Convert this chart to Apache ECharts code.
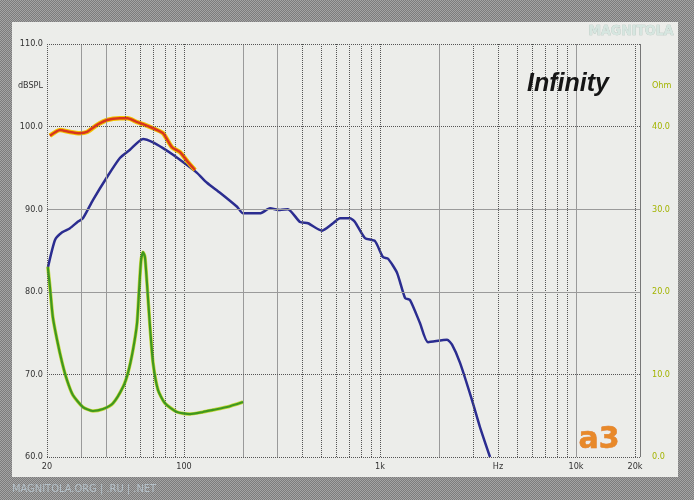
<!DOCTYPE html>
<html><head><meta charset="utf-8">
<script src="https://cdn.jsdelivr.net/npm/echarts@6/dist/echarts.min.js"></script>
<style>html,body{margin:0;padding:0;background:#8c8c8c}#c{width:694px;height:500px}</style>
</head><body><div id="c"></div>
<script>
// ---- data ----
const splFreq = [20.2,22,23.9,26.2,28.8,30.5,34.3,40.5,47.1,53,61.8,69.5,78.1,87.9,103.6,116.5,131,152.6,186.5,200,244,274.6,309,339,390.7,429,506,575.6,625,703,745,838,942,1035,1099,1221,1342,1423,1600,1758,2198,2330,2560,2946,3238,3641];
const splDb   = [82.9,86.3,87.2,87.7,88.5,88.9,91.1,93.9,96.2,97.2,98.5,98.1,97.4,96.6,95.35,94.4,93.2,92.0,90.3,89.5,89.5,90.1,89.9,90.0,88.45,88.3,87.4,88.3,88.9,88.9,88.45,86.5,86.15,84.2,84.0,82.3,79.25,79.0,76.2,73.9,74.2,73.6,71.4,66.9,63.6,60.0];
const nearFreq = [20.7,23.3,26.2,29.4,32,36,40.5,47.1,51.6,57.6,61.8,69.5,78.1,86.8,95.4,104.8,113.8];
const nearDb   = [98.9,99.6,99.35,99.2,99.35,100.2,100.8,101.0,101.0,100.55,100.3,99.8,99.2,97.5,96.9,95.7,94.75];
const impFreq = [20.2,20.7,21.4,22.5,23.9,25.3,27.1,30.5,34.3,38.6,43.4,48.9,51.8,54.9,57.6,59,60.4,61.8,63.2,64.7,67.1,69.5,73.7,80,92.1,107.3,125,140.6,165.8,200];
const impOhm  = [23.0,20.6,17.0,14.2,11.4,9.3,7.5,6.05,5.57,5.8,6.5,8.5,10.2,12.95,16.2,20.2,23.85,24.8,24.2,21.1,15.7,11.4,8.1,6.5,5.45,5.2,5.45,5.7,6.05,6.66];

const xTickValues = [20,100,1000,4000,10000,20000];
const xTickLabels = ['20','100','1k','Hz','10k','20k'];
const xGridFreq = [30,40,50,60,70,80,90,100,200,300,400,500,600,700,800,900,1000,2000,3000,4000,5000,6000,7000,8000,9000,10000,20000];
const xSolidFreq = [30,40,200,300,2000,10000];
const dbGrid = [60,70,80,90,100,110];
const dbSolid = [80,90];

const zip = (a,b)=>a.map((v,i)=>[v,b[i]]);

const pc = document.createElement('canvas'); pc.width=2; pc.height=2;
const g = pc.getContext('2d');
g.fillStyle='#7c7c7c'; g.fillRect(0,0,2,2);
g.fillStyle='#a4a4a4'; g.fillRect(0,0,1,1); g.fillRect(1,1,1,1);

const FONT = '"Liberation Sans Narrow","DejaVu Sans Condensed",sans-serif';
const gridLines = [];
xGridFreq.forEach(f=>{
  const solid = xSolidFreq.includes(f);
  gridLines.push({xAxis:f, lineStyle:{type: solid?'solid':'dotted', color: solid?'#9a9a9a':'#555', width:1}});
});
dbGrid.forEach(v=>{
  const solid = dbSolid.includes(v);
  gridLines.push({yAxis:v, lineStyle:{type: solid?'solid':'dotted', color: solid?'#9a9a9a':'#555', width:1}});
});
gridLines.push({xAxis:20, lineStyle:{type:'dotted', color:'#555', width:1}});
gridLines.push({xAxis:21200, lineStyle:{type:'solid', color:'#777', width:1}});
xTickValues.forEach((v,i)=>{
  gridLines.push({xAxis:v, lineStyle:{color:'rgba(0,0,0,0)', width:0.1},
    label:{show:true, position:'start', distance:5, formatter:xTickLabels[i], color:'#333',
      fontSize:9, fontFamily:FONT}});
});

const lab = {fontSize:9, fontFamily:FONT};

const chart = echarts.init(document.getElementById('c'));
chart.setOption({
  animation:false,
  backgroundColor:{image:pc, repeat:'repeat'},
  grid:{left:47, right:54, top:44, bottom:43},
  xAxis:{type:'log', logBase:10, min:20, max:21200,
    axisLabel:{show:false}, axisTick:{show:false}, axisLine:{show:false}, splitLine:{show:false}},
  yAxis:[
    {type:'value', min:60, max:110, interval:5, position:'left',
      axisLine:{show:false}, axisTick:{show:false}, splitLine:{show:false},
      axisLabel:Object.assign({color:'#333', margin:4,
        formatter:v=> v===105?'dBSPL':(v%10===0? v.toFixed(1):'')}, lab)},
    {type:'value', min:0, max:50, interval:5, position:'right',
      axisLine:{show:false}, axisTick:{show:false}, splitLine:{show:false},
      axisLabel:Object.assign({color:'#a3b400', margin:12,
        formatter:v=> v===45?'Ohm':((v%10===0 && v<50)? v.toFixed(1):'')}, lab)}
  ],
  graphic:[
    {type:'rect', z:-10, shape:{x:12,y:22,width:666,height:455}, style:{fill:'#ecedea'}},
    {type:'text', z:100, style:{text:'Infinity', x:568, y:84, textAlign:'center', textVerticalAlign:'middle',
      font:'italic bold 25px "Liberation Sans", Arial, sans-serif', fill:'#151515'}},
    {type:'text', z:100, style:{text:'a3', x:599, y:440, textAlign:'center', textVerticalAlign:'middle',
      font:'bold 30px "DejaVu Sans", sans-serif', fill:'#e8892a', stroke:'#d8702a', lineWidth:0.5}},
    {type:'text', z:100, style:{text:'MAGNITOLA', x:631, y:31, textAlign:'center', textVerticalAlign:'middle',
      font:'bold 14px ' + FONT, fill:'#d6e6e0', stroke:'#b4c4bc', lineWidth:0.6}},
    {type:'text', z:100, style:{text:'MAGNITOLA.ORG | .RU | .NET', x:12, y:489, textVerticalAlign:'middle',
      font:'11px ' + FONT, fill:'#b4c0c8'}}
  ],
  series:[
    {type:'line', z:1, data:[[1000,85]], symbol:'none', lineStyle:{opacity:0}, silent:true,
      markLine:{silent:true, symbol:['none','none'], animation:false, label:{show:false}, data:gridLines}},
    {type:'line', z:3, data:zip(splFreq,splDb), symbol:'none', smooth:0.2,
      lineStyle:{color:'#2b2d90', width:2.5}},
    {type:'line', z:4, data:zip(nearFreq,nearDb), symbol:'none', smooth:0.2,
      lineStyle:{color:'#f2c400', width:4.5}},
    {type:'line', z:5, data:zip(nearFreq,nearDb), symbol:'none', smooth:0.2,
      lineStyle:{color:'#d8361c', width:2.5}},
    {type:'line', z:4, yAxisIndex:1, data:zip(impFreq,impOhm), symbol:'none', smooth:0.2,
      lineStyle:{color:'#c4d83a', width:3.5}},
    {type:'line', z:5, yAxisIndex:1, data:zip(impFreq,impOhm), symbol:'none', smooth:0.2,
      lineStyle:{color:'#3f981e', width:2.2}}
  ]
});
</script></body></html>
